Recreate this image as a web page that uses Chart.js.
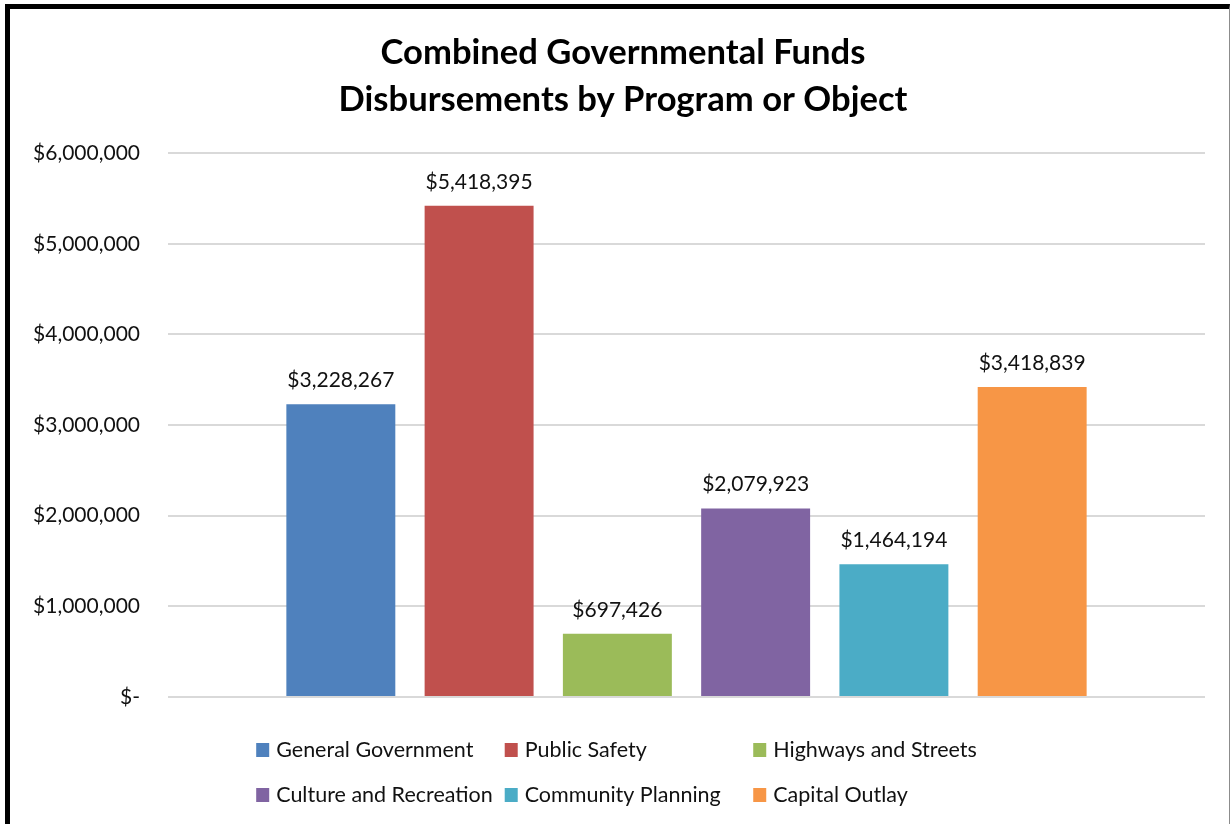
<!DOCTYPE html>
<html>
<head>
<meta charset="utf-8">
<title>Combined Governmental Funds</title>
<script src="https://cdn.jsdelivr.net/npm/chart.js@4.4.1/dist/chart.umd.min.js"></script>
<style>
  body { margin: 0; background: #fff; }
  #frame {
    position: absolute;
    left: 5px;
    top: 4px;
    border-left: 5px solid #000;
    border-top: 5px solid #000;
    border-right: 1px solid #8c8c8c;
  }
  canvas { display: block; }
</style>
</head>
<body>
<div id="frame"><canvas id="myChart" width="1219" height="815"></canvas></div>
<script>
'use strict';

// data
const programs = [
  'General Government',
  'Public Safety',
  'Highways and Streets',
  'Culture and Recreation',
  'Community Planning',
  'Capital Outlay'
];
const amounts = [3228267, 5418395, 697426, 2079923, 1464194, 3418839];
const barColors = ['#4F81BD', '#C0504D', '#9BBB59', '#8064A2', '#4BACC6', '#F79646'];
const tickLabels = ['$-', '$1,000,000', '$2,000,000', '$3,000,000', '$4,000,000', '$5,000,000', '$6,000,000'];

const fontName = 'Lato';

function money(v) {
  return '$' + v.toLocaleString('en-US');
}

// value above every bar
const barLabels = {
  id: 'barLabels',
  afterDatasetsDraw(chart) {
    const ctx = chart.ctx;
    ctx.save();
    ctx.font = '21px ' + fontName;
    ctx.fillStyle = '#111';
    ctx.textAlign = 'center';
    ctx.textBaseline = 'middle';
    chart.data.datasets.forEach((ds, i) => {
      const bar = chart.getDatasetMeta(i).data[0];
      ctx.fillText(money(ds.data[0]), bar.x, bar.y - 24);
    });
    ctx.restore();
  }
};

// title is centred on the whole frame, not on the padded box
const titleCentre = {
  id: 'titleCentre',
  afterLayout(chart) {
    if (chart.titleBlock) {
      chart.titleBlock.left = 7;
      chart.titleBlock.right = chart.width;
    }
  }
};

// two rows of three, like the excel legend
const bottomLegend = {
  id: 'bottomLegend',
  afterDraw(chart) {
    const ctx = chart.ctx;
    const sets = chart.data.datasets;
    const box = 13;
    const gap = 7;
    ctx.save();
    ctx.font = '21.5px ' + fontName;
    ctx.textBaseline = 'middle';
    ctx.fillStyle = '#111';

    const widths = sets.map(d => box + gap + ctx.measureText(d.label).width);
    const step = Math.max(...widths) + 12;
    const lastCol = Math.max(widths[2], widths[5]);
    const left = chart.width / 2 - (step * 2 + lastCol) / 2 - 3;
    const rowY = [chart.chartArea.bottom + 53, chart.chartArea.bottom + 98];

    sets.forEach((d, i) => {
      const x = left + step * (i % 3);
      const y = rowY[Math.floor(i / 3)];
      ctx.fillStyle = d.backgroundColor;
      ctx.fillRect(x, y - 7, box, 14);
      ctx.fillStyle = '#111';
      ctx.fillText(d.label, x + box + gap, y);
    });
    ctx.restore();
  }
};

const datasets = [];
for (let i = 0; i < programs.length; i++) {
  datasets.push({
    label: programs[i],
    data: [amounts[i]],
    backgroundColor: barColors[i],
    categoryPercentage: 0.8,
    barPercentage: 0.788
  });
}

const ctx = document.getElementById('myChart').getContext('2d');
const myChart = new Chart(ctx, {
  type: 'bar',
  data: {
    labels: [''],
    datasets: datasets
  },
  plugins: [barLabels, titleCentre, bottomLegend],
  options: {
    responsive: false,
    animation: false,
    layout: {
      padding: { left: 0, right: 24, top: 0, bottom: 127 }
    },
    plugins: {
      legend: { display: false },
      tooltip: { enabled: false },
      title: {
        display: true,
        text: ['Combined Governmental Funds', 'Disbursements by Program or Object'],
        color: '#000',
        font: { family: fontName, size: 34.6, weight: 'bold', lineHeight: 1.36 },
        padding: { top: 20, bottom: 30 }
      }
    },
    scales: {
      x: {
        display: false
      },
      y: {
        min: 0,
        max: 6000000,
        afterFit(scale) {
          scale.width = 158;
        },
        ticks: {
          stepSize: 1000000,
          padding: 28,
          color: '#111',
          font: { family: fontName, size: 21 },
          callback: (value, index) => tickLabels[index]
        },
        grid: {
          color: '#d9d9d9',
          lineWidth: 2,
          drawTicks: false
        },
        border: { display: false }
      }
    }
  }
});
</script>
</body>
</html>
